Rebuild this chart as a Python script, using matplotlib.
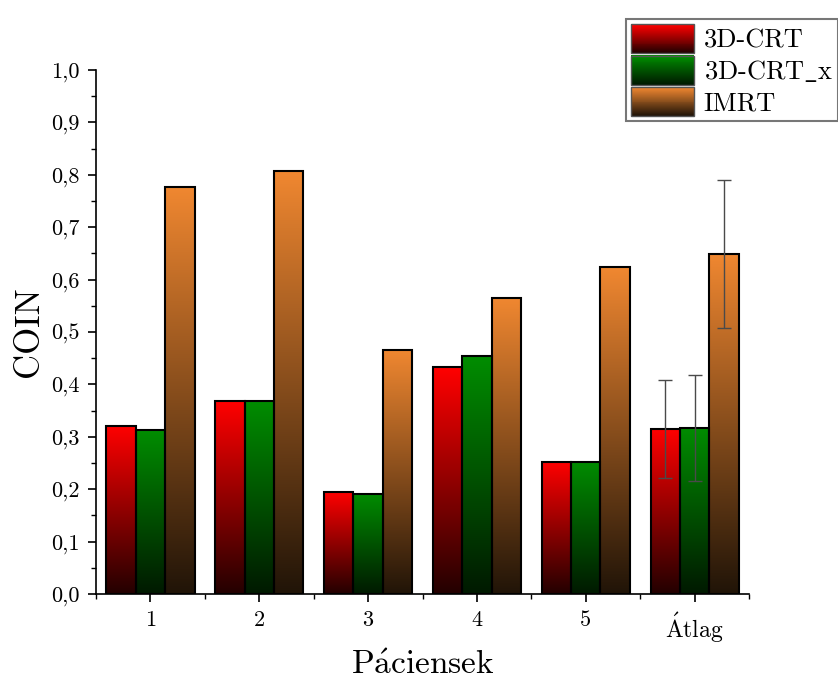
import numpy as np
import matplotlib
matplotlib.use("Agg")
import matplotlib.pyplot as plt
from matplotlib.legend_handler import HandlerBase
from matplotlib.patches import Rectangle
from matplotlib.ticker import FuncFormatter, MultipleLocator

plt.rcParams['font.family'] = ['cmr10', 'DejaVu Serif']
plt.rcParams['mathtext.fontset'] = 'cm'
plt.rcParams['axes.unicode_minus'] = False

# adatok
paciensek = ['1', '2', '3', '4', '5', r'$\mathrm{\acute{A}tlag}$']
crt = [0.321, 0.368, 0.195, 0.433, 0.252, 0.315]
crt_x = [0.313, 0.368, 0.191, 0.454, 0.252, 0.317]
imrt = [0.777, 0.808, 0.466, 0.565, 0.624, 0.649]
# hiba csak az atlagnal
crt_err = [0, 0, 0, 0, 0, 0.094]
crt_x_err = [0, 0, 0, 0, 0, 0.101]
imrt_err = [0, 0, 0, 0, 0, 0.142]

sorozatok = ['3D-CRT', r'3D-CRT$\_$x', 'IMRT']
felso_szin = [(1.0, 0.0, 0.0), (0.0, 0.55, 0.0), (0.94, 0.53, 0.19)]
also_szin = [(0.14, 0.0, 0.0), (0.0, 0.10, 0.0), (0.13, 0.08, 0.03)]


def gradiens(felso, also, n=100):
    t = np.linspace(0, 1, n)[:, None]
    return (1 - t) * np.array(also) + t * np.array(felso)


class GradHandler(HandlerBase):
    def __init__(self, felso, also):
        super().__init__()
        self.felso = felso
        self.also = also

    def create_artists(self, legend, orig_handle, xdescent, ydescent,
                       width, height, fontsize, trans):
        n = 30
        cols = gradiens(self.felso, self.also, n)
        art = []
        for i in range(n):
            r = Rectangle((-xdescent, -ydescent + height * i / n), width,
                          height / n + 0.3, facecolor=cols[i], edgecolor='none',
                          transform=trans)
            art.append(r)
        art.append(Rectangle((-xdescent, -ydescent), width, height,
                             facecolor='none', edgecolor='#555555', lw=1.0,
                             transform=trans))
        return art


fig = plt.figure(figsize=(8.38, 6.81), dpi=100)
ax = fig.add_axes([0.1146, 0.1278, 0.7792, 0.7694])

x = np.arange(1, len(paciensek) + 1)
w = 0.27
adatsorok = [(crt, crt_err), (crt_x, crt_x_err), (imrt, imrt_err)]
for k, (vals, errs) in enumerate(adatsorok):
    pos = x + (k - 1) * w
    bars = ax.bar(pos, vals, w, facecolor='none', edgecolor='black',
                  linewidth=1.5, zorder=3)
    img = gradiens(felso_szin[k], also_szin[k])[:, None, :]
    for b in bars:
        ax.imshow(img, extent=(b.get_x(), b.get_x() + b.get_width(), 0,
                               b.get_height()),
                  origin='lower', aspect='auto', zorder=2, interpolation='bilinear')
    e = np.array(errs)
    m = e > 0
    ax.errorbar(pos[m], np.array(vals)[m], yerr=e[m], fmt='none',
                ecolor='#4a4a4a', elinewidth=1.0, capsize=5, capthick=1.0,
                zorder=4)

ax.set_xlim(0.5, 6.5)
ax.set_ylim(0, 1.0)
ax.set_xticks(x)
ax.set_xticklabels(paciensek)
# minor ticks between categories
ax.set_xticks(np.arange(0.5, 7.0, 1.0), minor=True)
ax.yaxis.set_major_locator(MultipleLocator(0.1))
ax.yaxis.set_minor_locator(MultipleLocator(0.05))
ax.yaxis.set_major_formatter(FuncFormatter(lambda v, p: ('%.1f' % v).replace('.', ',')))

ax.spines['top'].set_visible(False)
ax.spines['right'].set_visible(False)
ax.spines['left'].set_linewidth(1.2)
ax.spines['bottom'].set_linewidth(1.2)
ax.tick_params(which='major', length=6, width=1.2, labelsize=16, pad=6)
ax.tick_params(which='minor', length=3.5, width=1.0)
ax.get_xticklabels()[-1].set_fontsize(17)

ax.set_xlabel(r'$\mathrm{P\acute{a}ciensek}$', fontsize=24, labelpad=4)
ax.set_ylabel('COIN', fontsize=25, labelpad=4)

handles = [Rectangle((0, 0), 1, 1) for _ in sorozatok]
hmap = {h: GradHandler(felso_szin[i], also_szin[i]) for i, h in enumerate(handles)}
leg = fig.legend(handles, sorozatok, handler_map=hmap, loc='upper right',
                 bbox_to_anchor=(1.0, 0.972), fontsize=19, fancybox=False,
                 edgecolor='#777777', framealpha=1, handlelength=2.4,
                 handleheight=1.3, labelspacing=0.1, borderpad=0.2,
                 handletextpad=0.35, borderaxespad=0.0)
leg.get_frame().set_linewidth(1.5)

fig.savefig('out.png', dpi=100)
